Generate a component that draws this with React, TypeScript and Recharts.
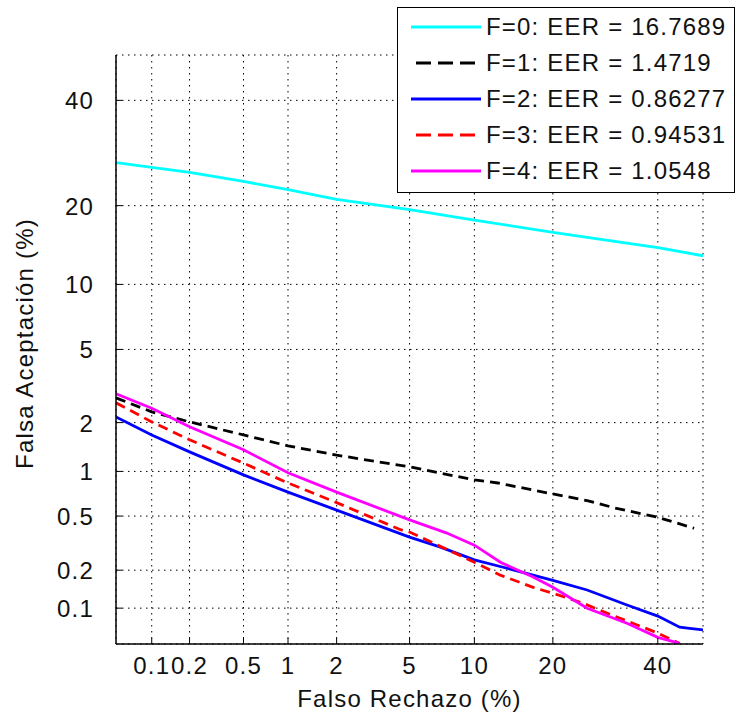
import React from 'react';
import { LineChart, Line, XAxis, YAxis, CartesianGrid, Legend, Label } from 'recharts';

// ---- axis definition (values in %) ----
const AXIS_MIN = 0.05;
const AXIS_MAX = 50;
const xTickValues = [0.1, 0.2, 0.5, 1, 2, 5, 10, 20, 40];
const xTickLabels = ['0.1', '0.2', '0.5', '1', '2', '5', '10', '20', '40'];
const yTickValues = [0.1, 0.2, 0.5, 1, 2, 5, 10, 20, 40];
const yTickLabels = ['0.1', '0.2', '0.5', '1', '2', '5', '10', '20', '40'];

// ---- series (Falso Rechazo % , Falsa Aceptación %) ----
const f0FR = [0.05, 0.1, 0.2, 0.5, 1, 2, 5, 10, 20, 40, 50];
const f0FA = [27.4, 26.5, 25.6, 24.0, 22.6, 21.0, 19.4, 17.8, 16.1, 14.1, 13.1];

const f1FR = [0.05, 0.1, 0.2, 0.5, 1, 2, 5, 10, 12.5, 20, 25.8, 31, 40, 48];
const f1FA = [2.77, 2.31, 2.02, 1.69, 1.45, 1.27, 1.07, 0.88, 0.84, 0.71, 0.64, 0.57, 0.49, 0.41];

const f2FR = [0.05, 0.1, 0.2, 0.5, 1, 2, 5, 7, 10, 13.6, 20, 25.8, 33.5, 40, 44.8, 47, 50];
const f2FA = [2.16, 1.69, 1.33, 0.95, 0.73, 0.55, 0.354, 0.3, 0.24, 0.207, 0.167, 0.14, 0.106, 0.086, 0.0695, 0.068, 0.066];

const f3FR = [0.05, 0.1, 0.2, 0.5, 1, 2, 4.5, 5, 10, 12.8, 17.05, 20, 25, 29.5, 34.7, 40, 44.8];
const f3FA = [2.6, 2.02, 1.58, 1.13, 0.84, 0.62, 0.4, 0.385, 0.23, 0.183, 0.147, 0.132, 0.11, 0.091, 0.075, 0.062, 0.0506];

const f4FR = [0.05, 0.1, 0.2, 0.5, 1, 2, 5, 7.5, 10, 12.8, 17.05, 20, 25.8, 33.5, 40, 44.8];
const f4FA = [2.92, 2.42, 1.89, 1.37, 0.98, 0.73, 0.47, 0.38, 0.309, 0.23, 0.177, 0.147, 0.0998, 0.075, 0.057, 0.0506];

const seriesNames = [
  'F=0: EER = 16.7689',
  'F=1: EER = 1.4719',
  'F=2: EER = 0.86277',
  'F=3: EER = 0.94531',
  'F=4: EER = 1.0548',
];
const seriesColors = ['#00FFFF', '#000000', '#0000FF', '#FF0000', '#FF00FF'];
const seriesDashed = [false, true, false, true, false];
const seriesFR = [f0FR, f1FR, f2FR, f3FR, f4FR];
const seriesFA = [f0FA, f1FA, f2FA, f3FA, f4FA];

// inverse standard normal CDF (Acklam) - DET (normal deviate) scale
function probit(p: number): number {
  const a = [-3.969683028665376e1, 2.209460984245205e2, -2.759285104469687e2, 1.38357751867269e2, -3.066479806614716e1, 2.506628277459239];
  const b = [-5.447609879822406e1, 1.615858368580409e2, -1.556989798598866e2, 6.680131188771972e1, -1.328068155288572e1];
  const c = [-7.784894002430293e-3, -3.223964580411365e-1, -2.400758277161838, -2.549732539343734, 4.374664141464968, 2.938163982698783];
  const d = [7.784695709041462e-3, 3.224671290700398e-1, 2.445134137142996, 3.754408661907416];
  const pl = 0.02425;
  if (p < pl) {
    const q = Math.sqrt(-2 * Math.log(p));
    return (((((c[0] * q + c[1]) * q + c[2]) * q + c[3]) * q + c[4]) * q + c[5]) / ((((d[0] * q + d[1]) * q + d[2]) * q + d[3]) * q + 1);
  }
  if (p <= 1 - pl) {
    const q = p - 0.5;
    const r = q * q;
    return ((((((a[0] * r + a[1]) * r + a[2]) * r + a[3]) * r + a[4]) * r + a[5]) * q) / (((((b[0] * r + b[1]) * r + b[2]) * r + b[3]) * r + b[4]) * r + 1);
  }
  const q = Math.sqrt(-2 * Math.log(1 - p));
  return -(((((c[0] * q + c[1]) * q + c[2]) * q + c[3]) * q + c[4]) * q + c[5]) / ((((d[0] * q + d[1]) * q + d[2]) * q + d[3]) * q + 1);
}
const pr = (pct: number) => probit(pct / 100);

const seriesData = seriesFR.map((fr, i) => fr.map((x, j) => ({ x: pr(x), y: pr(seriesFA[i][j]) })));

const FONT = '"Liberation Sans", Arial, Helvetica, sans-serif';
const FS = 24;
const LS = 1.2;
const TXT = '#111';

const XTickBottom = (props: any) => {
  const { x, y, index } = props;
  return (
    <g>
      <line x1={x} y1={y} x2={x} y2={y - 6} stroke="#000" strokeWidth={1} />
      <text x={x} y={y + 30} textAnchor="middle" fontFamily={FONT} fontSize={FS} letterSpacing={LS} fill={TXT}>
        {xTickLabels[index]}
      </text>
    </g>
  );
};
const XTickTop = (props: any) => {
  const { x, y } = props;
  return <line x1={x} y1={y} x2={x} y2={y + 6} stroke="#000" strokeWidth={1} />;
};
const YTickLeft = (props: any) => {
  const { x, y, index } = props;
  return (
    <g>
      <line x1={x} y1={y} x2={x + 6} y2={y} stroke="#000" strokeWidth={1} />
      <text x={x - 22} y={y + 9} textAnchor="end" fontFamily={FONT} fontSize={FS} letterSpacing={LS} fill={TXT}>
        {yTickLabels[index]}
      </text>
    </g>
  );
};
const YTickRight = (props: any) => {
  const { x, y } = props;
  return <line x1={x} y1={y} x2={x - 6} y2={y} stroke="#000" strokeWidth={1} />;
};

const renderLegend = () => (
  <div
    style={{
      width: 338,
      height: 186,
      background: '#fff',
      border: '1.5px solid #000',
      boxSizing: 'border-box',
      paddingTop: 1,
    }}
  >
    {seriesNames.map((name, i) => (
      <div key={name} style={{ height: 36, display: 'flex', alignItems: 'center' }}>
        <svg width={88} height={20} style={{ display: 'block' }}>
          <line
            x1={seriesDashed[i] ? 18 : 13}
            y1={10}
            x2={83}
            y2={10}
            stroke={seriesColors[i]}
            strokeWidth={3}
            strokeDasharray={seriesDashed[i] ? '15 7' : undefined}
          />
        </svg>
        <span style={{ fontFamily: FONT, fontSize: FS, letterSpacing: LS, color: TXT, whiteSpace: 'nowrap' }}>
          {name}
        </span>
      </div>
    ))}
  </div>
);

export default function App() {
  const domain = [pr(AXIS_MIN), pr(AXIS_MAX)];
  return (
    <div style={{ position: 'absolute', left: 0, top: 0 }}>
      <LineChart width={737} height={718} margin={{ top: 55, right: 34, bottom: 0, left: 0 }}>
        <CartesianGrid stroke="#000" strokeDasharray="1.5 4.5" strokeWidth={1} />
        <XAxis
          xAxisId={0}
          type="number"
          dataKey="x"
          domain={domain}
          allowDataOverflow
          ticks={xTickValues.map(pr)}
          interval={0}
          height={74}
          tickSize={0}
          tickMargin={0}
          tick={<XTickBottom />}
          axisLine={{ stroke: '#000', strokeWidth: 1.5 }}
        >
          <Label
            content={(p: any) => {
              const vb = p.viewBox;
              return (
                <text x={vb.x + vb.width / 2} y={vb.y + 63} textAnchor="middle" fontFamily={FONT} fontSize={FS} letterSpacing={LS} fill={TXT}>
                  Falso Rechazo (%)
                </text>
              );
            }}
          />
        </XAxis>
        <XAxis
          xAxisId="top"
          orientation="top"
          type="number"
          domain={domain}
          allowDataOverflow
          ticks={xTickValues.map(pr)}
          interval={0}
          height={0}
          tickSize={0}
          tickMargin={0}
          tick={<XTickTop />}
          axisLine={{ stroke: '#000', strokeWidth: 1.5 }}
        />
        <YAxis
          yAxisId={0}
          type="number"
          dataKey="y"
          domain={domain}
          allowDataOverflow
          ticks={yTickValues.map(pr)}
          interval={0}
          width={116}
          tickSize={0}
          tickMargin={0}
          tick={<YTickLeft />}
          axisLine={{ stroke: '#000', strokeWidth: 1.5 }}
        >
          <Label
            content={(p: any) => {
              const vb = p.viewBox;
              const cx = 24;
              const cy = vb.y + vb.height / 2 - 6;
              return (
                <text
                  x={cx}
                  y={cy}
                  transform={`rotate(-90 ${cx} ${cy})`}
                  textAnchor="middle"
                  dominantBaseline="central"
                  fontFamily={FONT}
                  fontSize={FS}
                  letterSpacing={LS}
                  fill={TXT}
                >
                  Falsa Aceptación (%)
                </text>
              );
            }}
          />
        </YAxis>
        <YAxis
          yAxisId="right"
          orientation="right"
          type="number"
          domain={domain}
          allowDataOverflow
          ticks={yTickValues.map(pr)}
          interval={0}
          width={0}
          tickSize={0}
          tickMargin={0}
          tick={<YTickRight />}
          axisLine={{ stroke: '#000', strokeWidth: 1.5 }}
        />
        {seriesData.map((data, i) => (
          <Line
            key={seriesNames[i]}
            data={data}
            dataKey="y"
            name={seriesNames[i]}
            type="linear"
            stroke={seriesColors[i]}
            strokeWidth={2.8}
            strokeDasharray={seriesDashed[i] ? '10 6' : undefined}
            dot={false}
            activeDot={false}
            isAnimationActive={false}
            xAxisId={0}
            yAxisId={0}
          />
        ))}
        <Legend
          layout="vertical"
          align="center"
          verticalAlign="middle"
          content={renderLegend}
          wrapperStyle={{ position: 'absolute', left: 397, top: 7, width: 338, height: 186 }}
        />
      </LineChart>
    </div>
  );
}
